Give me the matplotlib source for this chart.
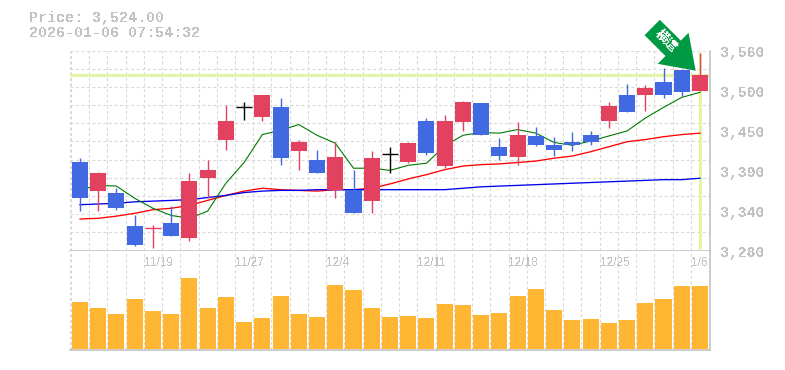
import matplotlib
matplotlib.use("Agg")
import matplotlib.pyplot as plt
import numpy as np
from matplotlib.patches import FancyArrow

plt.rcParams["font.family"] = ["Liberation Mono", "Noto Sans CJK JP", "DejaVu Sans"]
plt.rcParams["text.antialiased"] = False

# candle values
highs = [3408, 3389, 3367, 3329, 3314, 3341, 3388, 3405, 3482, 3486, 3496, 3492, 3433, 3419, 3430, 3391, 3418, 3423,
         3430, 3464, 3469, 3488, 3485, 3436, 3458, 3451, 3437, 3444, 3446, 3486, 3511, 3510, 3534, 3531, 3555]
lows = [3334, 3334, 3335, 3285, 3282, 3299, 3292, 3352, 3419, 3461, 3460, 3399, 3391, 3387, 3352, 3331, 3332, 3388,
        3401, 3412, 3394, 3446, 3440, 3406, 3398, 3425, 3411, 3418, 3426, 3450, 3472, 3474, 3492, 3495, 3502]
opens = [3402, 3362, 3360, 3313, 3310, 3318, 3296, 3380, 3433, 3479, 3465, 3479, 3418, 3406, 3364, 3364, 3348, 3414,
         3402, 3460, 3397, 3458, 3485, 3423, 3409, 3439, 3427, 3430, 3441, 3460, 3496, 3496, 3514, 3531, 3502]
closes = [3352, 3387, 3338, 3287, 3311, 3299, 3376, 3392, 3460, 3479, 3496, 3408, 3430, 3387, 3409, 3331, 3408, 3414,
          3429, 3415, 3460, 3486, 3440, 3411, 3441, 3426, 3420, 3427, 3430, 3481, 3472, 3506, 3496, 3500, 3524]
ma_short = [3364, 3370, 3369, 3352, 3338, 3328, 3324, 3334, 3373, 3402, 3441, 3447, 3455, 3440, 3429, 3394, 3394, 3391,
            3398, 3401, 3425, 3440, 3444, 3443, 3448, 3443, 3430, 3426, 3432, 3439, 3446, 3464, 3479, 3493, 3500]
ma_mid = [3323, 3324, 3327, 3331, 3336, 3338, 3342, 3349, 3356, 3362, 3366, 3364, 3363, 3362, 3364, 3364, 3366, 3372,
          3379, 3385, 3392, 3397, 3399, 3400, 3402, 3404, 3408, 3411, 3417, 3424, 3431, 3434, 3438, 3441, 3443]
ma_long = [3343, 3344, 3345, 3347, 3348, 3349, 3350, 3353, 3356, 3360, 3362, 3363, 3363, 3364, 3364, 3364, 3364, 3364,
           3364, 3364, 3364, 3366, 3368, 3369, 3370, 3371, 3372, 3373, 3374, 3375, 3376, 3377, 3378, 3378, 3380]
volumes = [46.3, 40.3, 34.3, 49.3, 37.3, 34.3, 71.3, 40.3, 51.3, 26.3, 30.3, 52.3, 34.3, 31.3, 64.3, 59.3, 40.3, 31.3,
           32.3, 30.3, 44.3, 43.3, 33.3, 35.3, 52.3, 60.3, 38.3, 28.3, 29.3, 25.3, 28.3, 45.3, 49.3, 63.3, 63.3]

price_ticks = ["3,560", "3,500", "3,450", "3,390", "3,340", "3,280"]
date_labels = ["11/19", "11/27", "12/4", "12/11", "12/18", "12/25", "1/6"]
date_index = [4, 9, 14, 19, 24, 29, 34]
last_price = 3524

W, H = 785, 370
GRID = "#d9d9d9"
AXIS = "#bfbfbf"
TEXT = "#c2c2c2"
RED = "#e2415f"
BLUE = "#4169e1"
HILITE = "#e2f5a6"

fig = plt.figure(figsize=(W / 100, H / 100), dpi=100)
left, right, top, mid, bottom = 70, 710, 50.5, 250.5, 350
ax = fig.add_axes([left / W, 1 - mid / H, (right - left) / W, (mid - top) / H])
vol = fig.add_axes([left / W, 1 - bottom / H, (right - left) / W, (bottom - mid) / H])

x = np.arange(len(closes))
xlim = (-0.548, 34.55)
ylim = (3279, 3558.5)
dash = (0, (2.7, 2.25))

ax.set_xlim(xlim)
ax.set_ylim(ylim)
for v in np.linspace(ylim[0], ylim[1], 12)[1:]:
    ax.axhline(v, color=GRID, lw=0.8, ls=dash, zorder=1)
for a in (ax, vol):
    for g in np.append(x - 0.5, -0.548):
        a.axvline(g, color=GRID, lw=0.8, ls=dash, zorder=1)
    a.set_xticks([])
    a.set_yticks([])
    for s in a.spines.values():
        s.set_visible(False)
    a.spines["right"].set_visible(True)
    a.spines["bottom"].set_visible(True)
    a.spines["right"].set_color(AXIS)
    a.spines["bottom"].set_color(AXIS)
    a.spines["right"].set_linewidth(1.1)
    a.spines["bottom"].set_linewidth(1.1)

ax.axhline(last_price, color=HILITE, lw=2.2, zorder=2)
ax.plot([x[-1], x[-1]], [3281, 3557], color=HILITE, lw=2.2, zorder=2, solid_capstyle="butt")

ax.plot(x, ma_mid, color="#ff0000", lw=0.95, zorder=3)
ax.plot(x, ma_long, color="#0000ee", lw=0.95, zorder=3)
ax.plot(x, ma_short, color="#007a00", lw=0.8, zorder=3)

for i in x:
    o, c = opens[i], closes[i]
    if o == c:
        color = "black"
    elif c > o:
        color = RED
    else:
        color = BLUE
    ax.plot([i, i], [lows[i], highs[i]], color=color, lw=1.0, zorder=4, solid_capstyle="butt")
    if abs(c - o) < 2:
        ax.plot([i - 0.44, i + 0.44], [o, o], color=color, lw=1.0, zorder=4, solid_capstyle="butt")
    else:
        ax.bar(i, abs(c - o), bottom=min(o, c), width=0.88, color=color, zorder=4)

vol.set_xlim(xlim)
vol.set_ylim(-1.5, 98.5)
vol.bar(x, volumes, width=0.88, color="#ffb733", zorder=3)

# everything outside the plot areas, in pixels
over = fig.add_axes([0, 0, 1, 1], zorder=10)
over.set_xlim(0, W)
over.set_ylim(H, 0)
over.axis("off")

over.text(29, 18, "Price: 3,524.00", fontsize=10.8, color=TEXT, va="center", ha="left", weight="bold")
over.text(29, 33, "2026-01-06 07:54:32", fontsize=10.8, color=TEXT, va="center", ha="left", weight="bold")

for label, y in zip(price_ticks, [53.5, 93.5, 133.5, 173.5, 213.5, 253.5]):
    over.text(720, y, label, fontsize=10.6, color=TEXT, va="center", ha="left", weight="bold")

for label, i in zip(date_labels, date_index):
    vol.text(i - 0.5, 0.875, label, transform=vol.get_xaxis_transform(), fontsize=8.6, color=TEXT,
             family=["Liberation Sans"], va="center", ha="left")

over.add_patch(FancyArrow(652.2, 27.5, 43.5, 43.2, width=21.7, head_width=43.8, head_length=31.8,
                          length_includes_head=True, color="#009944", lw=0))
over.text(666, 41, "横這", fontsize=9.2, color="white", rotation=-45, rotation_mode="anchor",
          va="center", ha="center", family=["Noto Sans CJK JP"], weight="bold")

fig.savefig("out.png", dpi=100)
